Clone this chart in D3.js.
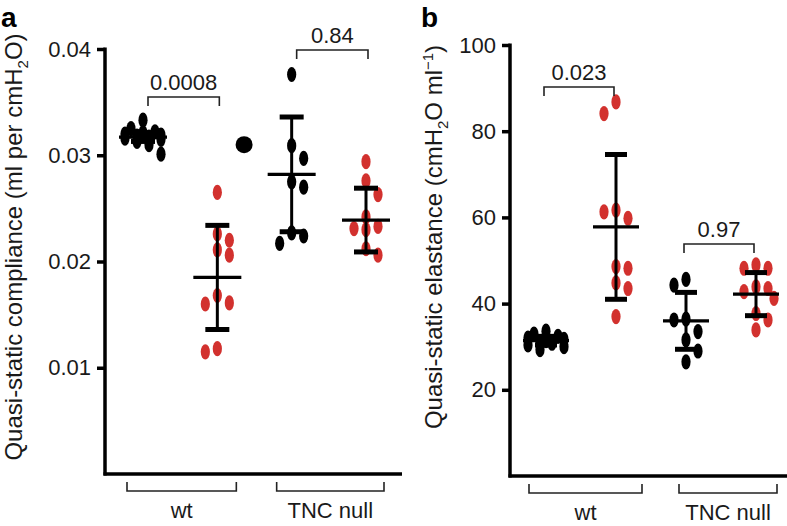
<!DOCTYPE html>
<html><head><meta charset="utf-8">
<script src="https://cdn.jsdelivr.net/npm/d3@7"></script>
<style>body{margin:0;background:#fff}svg{display:block}text{font-family:"Liberation Sans",Arial,sans-serif}</style>
</head><body>
<svg id="c" width="787" height="526"></svg>
<script>
// ---------- DATA ----------
const groups = ["wt", "TNC null"];
const seriesNames = ["control", "treated"];            // black, red
const seriesColors = ["#000000", "#d2312e"];
// Panel a: quasi-static compliance (ml per cmH2O)
const complianceWtControl  = [0.0333, 0.0325, 0.0322, 0.0321, 0.0320, 0.0319, 0.0318, 0.0317, 0.0316, 0.0315, 0.0313, 0.0310, 0.0301];
const complianceWtTreated  = [0.0265, 0.0226, 0.0220, 0.0211, 0.0206, 0.0168, 0.0161, 0.0160, 0.0118, 0.0115];
const complianceTncControl = [0.0376, 0.0309, 0.0297, 0.0275, 0.0270, 0.0227, 0.0224, 0.0217];
const complianceTncTreated = [0.0294, 0.0276, 0.0263, 0.0242, 0.0233, 0.0231, 0.0230, 0.0212, 0.0206];
const complianceMean = [0.0317, 0.0185, 0.0282, 0.0239];
const complianceSD   = [0.0004, 0.0049, 0.0054, 0.0030];
const complianceStray = [0.0310];          // isolated black dot between wt and TNC null
const complianceP = ["0.0008", "0.84"];
const complianceTicks = [0.01, 0.02, 0.03, 0.04];
// Panel b: quasi-static elastance (cmH2O ml-1)
const elastanceWtControl  = [33.6, 32.9, 32.4, 32.0, 31.7, 31.4, 31.1, 30.8, 30.4, 30.0, 29.3];
const elastanceWtTreated  = [86.8, 84.1, 61.7, 61.3, 59.8, 48.6, 48.2, 44.8, 43.5, 37.0];
const elastanceTncControl = [45.6, 44.3, 36.4, 36.2, 33.5, 31.6, 29.0, 26.5];
const elastanceTncTreated = [49.0, 48.2, 48.2, 43.9, 43.5, 42.8, 41.2, 37.7, 36.2, 33.9];
const elastanceMean = [31.4, 57.8, 36.0, 42.2];
const elastanceSD   = [1.0, 16.8, 6.6, 5.0];
const elastanceP = ["0.023", "0.97"];
const elastanceTicks = [20, 40, 60, 80, 100];

// ---------- DRAW ----------
const svg = d3.select("#c");
const FONT = 22;

// collision-based beeswarm (horizontal offsets computed from the values)
function beeswarm(values, yScale, cx, opt) {
  const {step, cw, ch, maxOff} = opt;
  const placed = [];
  const sorted = values.slice().sort((a, b) => b - a);
  sorted.forEach((v, idx) => {
    const py = yScale(v);
    const sign = idx % 2 ? -1 : 1;
    const cands = [0];
    for (let k = 1; k * step <= maxOff; k++) cands.push(sign * k * step, -sign * k * step);
    let best = null, bestC = Infinity;
    for (const off of cands) {
      let c = 0;
      placed.forEach(p => {
        const dx = Math.abs(p.x - (cx + off)), dy = Math.abs(p.y - py);
        if (dx < cw && dy < ch) c += (cw - dx) * (ch - dy);
      });
      if (c === 0) { best = off; bestC = 0; break; }
      if (c < bestC) { bestC = c; best = off; }
    }
    placed.push({x: cx + best, y: py, v});
  });
  return placed;
}

function panel(cfg) {
  const g = svg.append("g");
  const y = d3.scaleLinear().domain([0, cfg.yMax]).range([cfg.y0, cfg.yTop]);
  const x = d3.scaleLinear().domain([0, 3]).range(cfg.xRange);

  // y axis
  const ax = d3.axisLeft(y).tickValues(cfg.ticks).tickSize(8).tickPadding(6)
    .tickFormat(cfg.fmt);
  const ag = g.append("g").attr("transform", `translate(${cfg.axisX},0)`).call(ax);
  ag.select(".domain").remove();
  ag.selectAll(".tick line").attr("stroke", "#000").attr("stroke-width", 3.5);
  ag.selectAll(".tick text").attr("font-size", FONT).attr("fill", "#1a1a1a");
  g.append("line").attr("x1", cfg.axisX).attr("x2", cfg.axisX)
    .attr("y1", y(cfg.yMax) - 1.5).attr("y2", cfg.y0 + 1.5).attr("stroke", "#000").attr("stroke-width", 3.5);
  g.append("line").attr("x1", cfg.axisX - 1.5).attr("x2", cfg.xEnd)
    .attr("y1", cfg.y0).attr("y2", cfg.y0).attr("stroke", "#000").attr("stroke-width", 3.5);

  // points
  const rx = 4.6, ry = 7.6;
  cfg.series.forEach((vals, i) => {
    const pts = beeswarm(vals, y, x(i), {step: 6, cw: 12, ch: 14, maxOff: cfg.maxOff[i]});
    g.append("g").selectAll("ellipse").data(pts).join("ellipse")
      .attr("cx", d => d.x).attr("cy", d => d.y).attr("rx", rx).attr("ry", ry)
      .attr("fill", seriesColors[i % 2]);
  });
  if (cfg.stray) {
    g.selectAll(".stray").data(cfg.stray).join("circle")
      .attr("cx", x(1.36)).attr("cy", d => y(d)).attr("r", 8.5).attr("fill", "#000");
  }
  // mean +- SD
  cfg.mean.forEach((m, i) => {
    const cx = x(i), s = cfg.sd[i];
    const eg = g.append("g").attr("stroke", "#000");
    eg.append("line").attr("x1", cx).attr("x2", cx).attr("y1", y(m + s)).attr("y2", y(m - s)).attr("stroke-width", 3);
    eg.append("line").attr("x1", cx - cfg.meanW).attr("x2", cx + cfg.meanW).attr("y1", y(m)).attr("y2", y(m)).attr("stroke-width", 3.2);
    [m + s, m - s].forEach(v => eg.append("line").attr("x1", cx - cfg.capW).attr("x2", cx + cfg.capW)
      .attr("y1", y(v)).attr("y2", y(v)).attr("stroke-width", 5));
  });
  // significance brackets
  cfg.p.forEach((t, j) => {
    const b = cfg.pBr[j];
    const x1 = x(2 * j) + cfg.pPad[0], x2 = x(2 * j + 1) + cfg.pPad[1];
    g.append("path").attr("d", `M${x1},${b + 9}V${b}H${x2}V${b + 9}`)
      .attr("fill", "none").attr("stroke", "#222").attr("stroke-width", 1.6);
    g.append("text").attr("x", (x1 + x2) / 2).attr("y", b - 7).attr("text-anchor", "middle")
      .attr("font-size", FONT).attr("fill", "#1a1a1a").text(t);
  });
  // group brackets below axis
  groups.forEach((name, j) => {
    const x1 = x(2 * j) + cfg.gPad[j][0], x2 = x(2 * j + 1) + cfg.gPad[j][1];
    const by = cfg.y0 + 17;
    g.append("path").attr("d", `M${x1},${by - 9}V${by}H${x2}V${by - 9}`)
      .attr("fill", "none").attr("stroke", "#222").attr("stroke-width", 1.6);
    g.append("text").attr("x", (x1 + x2) / 2).attr("y", cfg.y0 + 44).attr("text-anchor", "middle")
      .attr("font-size", FONT).attr("fill", "#1a1a1a").text(name);
  });
  // panel letter
  g.append("text").attr("x", cfg.letterX).attr("y", 27).attr("font-size", 28).attr("font-weight", "bold").text(cfg.letter);
  // y label
  const yl = g.append("text").attr("transform", `translate(${cfg.labelX},${cfg.labelY}) rotate(-90)`)
    .attr("text-anchor", "middle").attr("font-size", 24).attr("fill", "#1a1a1a");
  cfg.label(yl);
}

panel({
  letter: "a", letterX: 1, yMax: 0.04, y0: 474, yTop: 49, axisX: 105, xEnd: 402, xRange: [143, 366],
  ticks: complianceTicks, fmt: d3.format(".2f"),
  series: [complianceWtControl, complianceWtTreated, complianceTncControl, complianceTncTreated],
  maxOff: [20, 18, 14, 18],
  mean: complianceMean, sd: complianceSD, stray: complianceStray, meanW: 24, capW: 12,
  p: complianceP, pBr: [97, 50], pPad: [5, 2],
  gPad: [[-16, 19], [-15, 18]],
  labelX: 22, labelY: 247,
  label: t => { t.append("tspan").text("Quasi-static compliance (ml per cmH");
    t.append("tspan").attr("font-size", 15).attr("dy", 6).text("2");
    t.append("tspan").attr("dy", -6).text("O)"); }
});
panel({
  letter: "b", letterX: 421, yMax: 100, y0: 476, yTop: 45, axisX: 510, xEnd: 787, xRange: [546, 756],
  ticks: elastanceTicks, fmt: d3.format("d"),
  series: [elastanceWtControl, elastanceWtTreated, elastanceTncControl, elastanceTncTreated],
  maxOff: [20, 18, 12, 18],
  mean: elastanceMean, sd: elastanceSD, meanW: 23, capW: 11,
  p: elastanceP, pBr: [87, 244], pPad: [-2, -2],
  gPad: [[-17, 26], [-7, 21]],
  labelX: 442, labelY: 237,
  label: t => { t.append("tspan").text("Quasi-static elastance (cmH");
    t.append("tspan").attr("font-size", 15).attr("dy", 6).text("2");
    t.append("tspan").attr("dy", -6).text("O ml");
    t.append("tspan").attr("font-size", 15).attr("dy", -9).text("\u22121");
    t.append("tspan").attr("dy", 9).text(")"); }
});
</script>
</body></html>
